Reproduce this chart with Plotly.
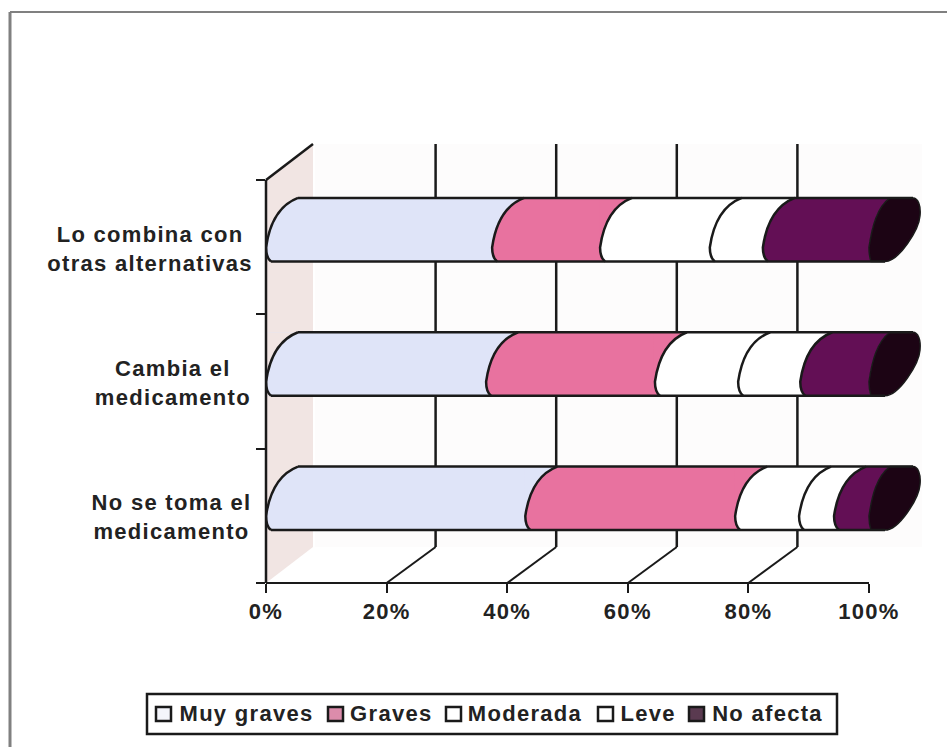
import plotly.graph_objects as go

# Survey answers, percent of respondents per severity level
categorias = ["No se toma el<br>medicamento", "Cambia el<br>medicamento", "Lo combina con<br>otras alternativas"]
muy_graves = [43.0, 36.5, 37.5]
graves = [34.8, 28.0, 17.9]
moderada = [10.6, 13.8, 18.2]
leve = [5.8, 10.3, 8.8]
no_afecta = [5.8, 11.4, 17.6]
tick_valores = [0, 20, 40, 60, 80, 100]
tick_textos = ["0%", "20%", "40%", "60%", "80%", "100%"]

# horizontal centre of each category label block
centro_etiquetas = [171.5, 172.5, 150]

# name, values, bar colour, legend swatch colour, swatch left, legend text centre
series = [
    ("Muy graves", muy_graves, "#dfe4f8", "#f4f5fb", 155, 246.5),
    ("Graves", graves, "#e8729f", "#dc8cab", 327, 391),
    ("Moderada", moderada, "#ffffff", "#ffffff", 445, 525.5),
    ("Leve", leve, "#ffffff", "#ffffff", 597, 647.5),
    ("No afecta", no_afecta, "#630f55", "#5a3a50", 688, 767.5),
]

WALL = "#f1e5e3"
CAP = "#1c0414"
INK = "#1a1a1a"
TEXT = "#222222"
FONT = dict(family="Liberation Sans", size=22, color=TEXT, weight=700)
STROKE = 2.5
LEFT, RIGHT, TOP, BOTTOM = 266, 869, 180, 583
PLOT_RIGHT = 930  # room past 100% for the cylinder's open end
W, H = 947, 747
DX, DY = 49, 36  # depth of the pseudo-3D box, in pixels
BAR_H = 63.5
SLOT = (BOTTOM - TOP) / 3
BAR_LIFT = 17.5 / SLOT  # bars sit halfway into the depth of the box
BAR_W = BAR_H / SLOT
X_MAX = (PLOT_RIGHT - LEFT) / (RIGHT - LEFT) * 100


def pxx(px):
    return (px - LEFT) / (PLOT_RIGHT - LEFT)


def pxy(py):
    return (BOTTOM - py) / (BOTTOM - TOP)


fig = go.Figure()
for name, vals, color, _, _, _ in series:
    fig.add_trace(go.Bar(
        y=categorias, x=vals, name=name, orientation="h",
        width=BAR_W, offset=BAR_LIFT - BAR_W / 2,
        marker=dict(color=color, line=dict(width=0)),
    ))

shapes = []


def paper_line(x0, y0, x1, y1, color=INK, width=STROKE, layer="below"):
    shapes.append(dict(type="line", xref="paper", yref="paper", layer=layer,
                       x0=pxx(x0), y0=pxy(y0), x1=pxx(x1), y1=pxy(y1),
                       line=dict(color=color, width=width)))


# outer frame: only the top and left edges are drawn
paper_line(10, 12, W, 12, color="#808080", width=2)
paper_line(10, 12, 10, H, color="#808080", width=3)

# back wall and side wall of the box
shapes.append(dict(type="rect", xref="paper", yref="paper", layer="below",
                   x0=pxx(LEFT + DX), x1=pxx(RIGHT + DX + 4), y0=pxy(TOP - DY), y1=pxy(BOTTOM - DY),
                   fillcolor="#fdfcfc", line=dict(width=0)))
shapes.append(dict(type="path", xref="paper", yref="paper", layer="below",
                   path=f"M{pxx(LEFT)},{pxy(TOP)} L{pxx(LEFT + DX - 2)},{pxy(TOP - DY)} "
                        f"L{pxx(LEFT + DX - 2)},{pxy(BOTTOM - DY)} L{pxx(LEFT)},{pxy(BOTTOM)} Z",
                   fillcolor=WALL, line=dict(width=0)))
paper_line(LEFT, TOP, LEFT + DX - 2, TOP - DY)

# gridlines run up the back wall and fold forward across the floor
for v in tick_valores[1:-1]:
    shapes.append(dict(type="line", xref="x", yref="paper", layer="below",
                       xsizemode="pixel", xanchor=v, x0=DX, x1=DX,
                       y0=pxy(TOP - DY), y1=pxy(BOTTOM - DY),
                       line=dict(color=INK, width=STROKE)))
    shapes.append(dict(type="line", xref="x", yref="paper", layer="below",
                       xsizemode="pixel", xanchor=v, x0=0, x1=DX,
                       y0=pxy(BOTTOM), y1=pxy(BOTTOM - DY),
                       line=dict(color=INK, width=2)))


def anchored(path, v, y, **kw):
    return dict(type="path", xref="x", yref="y", xsizemode="pixel", ysizemode="pixel",
                xanchor=v, yanchor=y, path=path, layer="above", **kw)


h = BAR_H
foot = f"C1,3 0,7 0,{h * 0.22}"
rise = f"C3,{h * 0.55} 12,{h * 0.88} 32,{h}"
end_foot = f"C0,6 0,10 0,{h * 0.22}"
end_rise = f"C3,{h * 0.55} 8,{h * 0.85} 21,{h}"

patches, seams, ends = [], [], []
for i, cat in enumerate(categorias):
    yb = i + BAR_LIFT - BAR_W / 2  # lower edge of the bar on the category axis
    cum = 0
    prev_color = WALL
    for name, vals, color, _, _, _ in series:
        # the previous segment wraps around this segment's rounded edge
        patches.append(anchored(f"M-1,0 L5,0 {foot} {rise} L-1,{h} Z", cum, yb,
                                fillcolor=prev_color, line=dict(width=0)))
        seams.append(anchored(f"M5,0 {foot} {rise}", cum, yb,
                              line=dict(color=INK, width=STROKE)))
        cum += vals[i]
        prev_color = color
    # far end of the cylinder: shoulder of the last segment, then the dark open face
    ends.append(anchored(f"M-1,0 L2,0 {end_foot} {end_rise} L-1,{h} Z", cum, yb,
                         fillcolor=series[-1][2], line=dict(width=0)))
    ends.append(anchored(
        f"M2,0 {end_foot} {end_rise} L44,{h} "
        f"C49,{h} 52,{h * 0.88} 51,{h * 0.72} C50,{h * 0.5} 30,0 16,0 Z",
        cum, yb, fillcolor=CAP, line=dict(color=INK, width=1.5)))
    # long outlines of the cylinder
    ends.append(anchored(f"M5,0 L{(RIGHT - LEFT) + 16},0", 0, yb, line=dict(color=INK, width=STROKE)))
    ends.append(anchored(f"M32,{h} L{(RIGHT - LEFT) + 44},{h}", 0, yb, line=dict(color=INK, width=STROKE)))
shapes += patches + seams + ends

# axis lines sit on top of the bar ends; the value axis stops at 100%
shapes.append(dict(type="line", xref="x", yref="paper", layer="above",
                   x0=0, x1=100, y0=0, y1=0, line=dict(color=INK, width=2)))
paper_line(LEFT, TOP, LEFT, BOTTOM, layer="above")

# legend box with its swatches
shapes.append(dict(type="rect", xref="paper", yref="paper", layer="above",
                   x0=pxx(147), x1=pxx(837), y0=pxy(694), y1=pxy(734),
                   fillcolor="rgba(255,255,255,0)", line=dict(color=INK, width=STROKE)))

# category labels stay centred line by line, so they are annotations
annotations = []
for cat, cx in zip(categorias, centro_etiquetas):
    annotations.append(dict(x=pxx(cx), xref="paper", xanchor="center", y=cat, yref="y",
                            text=cat, showarrow=False, align="center", font=FONT,
                            yshift=-1.5))
for name, _, _, swatch, sx, tc in series:
    shapes.append(dict(type="rect", xref="paper", yref="paper", layer="above",
                       x0=pxx(sx + 1), x1=pxx(sx + 16), y0=pxy(707), y1=pxy(721),
                       fillcolor=swatch, line=dict(color=INK, width=STROKE)))
    annotations.append(dict(x=pxx(tc), xref="paper", xanchor="center", y=pxy(713), yref="paper",
                            yanchor="middle", text=name, showarrow=False, font=FONT))

fig.update_layout(
    width=W, height=H,
    margin=dict(l=LEFT, r=W - PLOT_RIGHT, t=TOP, b=H - BOTTOM, autoexpand=False, pad=0),
    paper_bgcolor="white", plot_bgcolor="rgba(0,0,0,0)",
    barmode="stack", bargap=0, showlegend=False,
    shapes=shapes, annotations=annotations,
    xaxis=dict(range=[0, X_MAX], tickvals=tick_valores, ticktext=tick_textos,
               showgrid=False, zeroline=False, showline=False,
               ticks="outside", ticklen=9, tickwidth=2, tickcolor=INK, tickfont=FONT),
    yaxis=dict(type="category", categoryorder="array", categoryarray=categorias,
               range=[-0.5, 2.5], showgrid=False, zeroline=False, showline=False,
               ticks="outside", ticklen=9, tickwidth=2, tickcolor=INK,
               tickson="boundaries", showticklabels=False),
)

# wider tracking on all chart text, applied before the final layout pass
spacing = """
var s = document.createElement('style');
s.textContent = 'svg text { letter-spacing: 1.3px; }';
document.head.appendChild(s);
Plotly.relayout('{plot_id}', {});
"""
fig.write_html("out.html", post_script=spacing, config=dict(displayModeBar=False))
